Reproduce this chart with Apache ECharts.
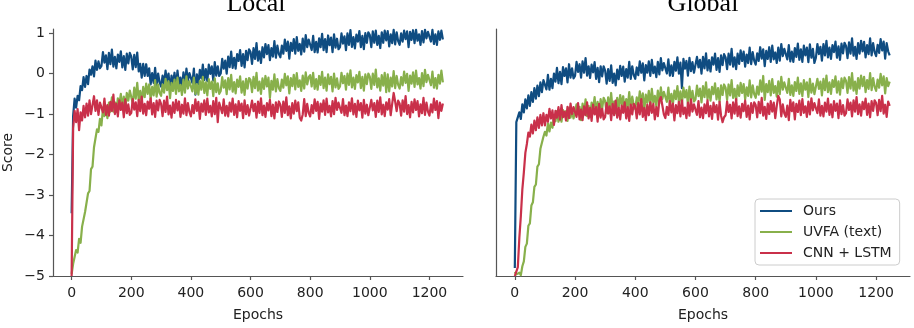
<!DOCTYPE html>
<html>
<head>
<meta charset="utf-8">
<script src="https://cdn.jsdelivr.net/npm/echarts@6/dist/echarts.min.js"></script>
<style>
html,body{margin:0;padding:0;background:#fff;}
#chart{width:914px;height:328px;}
</style>
</head>
<body>
<div id="chart"></div>
<script>
// ---- data ----
const seriesNames = ['Ours', 'UVFA (text)', 'CNN + LSTM'];
const panelTitles = ['Local', 'Global'];
const xTicks = [0, 200, 400, 600, 800, 1000, 1200];
const yTicks = [-5, -4, -3, -2, -1, 0, 1];
const EPOCH_STEP = 5; // one value every 5 epochs

const localOurs = [
-3.45,-1.05,-0.62,-0.84,-0.55,-0.66,-0.31,-0.41,-0.09,-0.33,-0.06,-0.26,0.10,-0.03,0.18,-0.07,0.32,0.09,0.30,0.13,
0.19,0.53,0.27,0.45,0.11,0.51,0.23,0.59,0.17,0.41,0.13,0.47,0.29,0.55,0.15,0.43,0.09,0.49,0.25,0.51,
0.42,0.10,0.46,0.16,0.52,0.05,0.24,-0.10,0.24,-0.06,0.23,-0.06,0.13,-0.27,0.01,-0.23,0.14,-0.29,0.00,-0.22,
-0.32,-0.05,-0.26,0.07,-0.21,0.00,-0.43,-0.05,-0.26,0.02,-0.34,0.07,-0.27,-0.10,-0.36,0.03,-0.29,0.12,-0.18,0.01,
0.04,-0.23,0.12,-0.52,-0.02,-0.27,0.09,-0.12,0.22,-0.16,0.11,-0.19,0.22,-0.01,0.18,-0.17,0.28,-0.05,0.18,-0.06,
0.00,0.36,0.12,0.32,0.00,0.42,0.16,0.54,0.14,0.39,0.12,0.48,0.31,0.58,0.19,0.48,0.15,0.56,0.33,0.60,
0.53,0.24,0.63,0.36,0.75,0.32,0.55,0.26,0.65,0.40,0.73,0.48,0.70,0.33,0.63,0.42,0.80,0.39,0.69,0.48,
0.40,0.69,0.49,0.84,0.56,0.79,0.37,0.76,0.56,0.85,0.49,0.90,0.56,0.73,0.47,0.86,0.54,0.95,0.65,0.84,
0.86,0.58,0.93,0.53,0.78,0.52,0.87,0.65,0.98,0.58,0.85,0.53,0.94,0.70,0.89,0.53,0.97,0.64,0.86,0.60,
0.65,0.99,0.74,0.92,0.58,0.99,0.71,1.07,0.66,0.90,0.62,0.96,0.79,1.05,0.65,0.93,0.60,1.00,0.76,1.02,
0.95,0.65,1.04,0.76,1.06,0.71,0.93,0.63,1.02,0.76,1.06,0.82,1.05,0.67,0.97,0.75,1.08,0.72,1.02,0.80,
0.71,0.99,0.79,1.06,0.85,1.04,0.65,1.03,0.83,1.07,0.75,1.08,0.81,0.97,0.71,1.05,0.77,1.08,0.87,1.03,
1.05,0.79,1.08,0.73,0.97,0.71,1.04,0.83,1.06,0.84
];
const localUVFA = [
-4.95,-4.70,-4.66,-4.36,-4.42,-4.08,-4.18,-3.78,-3.80,-3.42,-3.46,-2.96,-2.90,-2.36,-2.30,-1.82,-1.80,-1.38,-1.44,-1.12,
-1.28,-0.87,-1.05,-0.84,-1.10,-0.72,-0.94,-0.59,-0.94,-0.71,-0.94,-0.61,-0.76,-0.50,-0.84,-0.57,-0.86,-0.48,-0.67,-0.42,
-0.45,-0.74,-0.35,-0.62,-0.23,-0.66,-0.43,-0.72,-0.33,-0.58,-0.25,-0.50,-0.27,-0.64,-0.33,-0.54,-0.16,-0.57,-0.27,-0.48,
-0.55,-0.27,-0.47,-0.13,-0.41,-0.19,-0.61,-0.23,-0.43,-0.15,-0.50,-0.10,-0.44,-0.28,-0.53,-0.15,-0.47,-0.07,-0.37,-0.19,
-0.16,-0.44,-0.10,-0.50,-0.26,-0.52,-0.18,-0.40,-0.08,-0.48,-0.22,-0.54,-0.14,-0.38,-0.20,-0.56,-0.12,-0.46,-0.24,-0.50,
-0.43,-0.09,-0.35,-0.17,-0.51,-0.11,-0.39,-0.03,-0.45,-0.21,-0.49,-0.15,-0.33,-0.07,-0.47,-0.19,-0.53,-0.13,-0.37,-0.11,
-0.16,-0.46,-0.08,-0.36,0.02,-0.42,-0.20,-0.50,-0.12,-0.38,-0.06,-0.32,-0.10,-0.60,-0.18,-0.40,-0.02,-0.44,-0.14,-0.36,
-0.43,-0.15,-0.35,-0.01,-0.29,-0.07,-0.49,-0.11,-0.31,-0.03,-0.39,0.01,-0.33,-0.17,-0.43,-0.05,-0.37,0.03,-0.27,-0.09,
-0.04,-0.32,0.02,-0.38,-0.14,-0.40,-0.06,-0.28,0.04,-0.36,-0.10,-0.42,-0.02,-0.26,-0.08,-0.44,0.00,-0.34,-0.12,-0.38,
-0.32,0.02,-0.24,-0.06,-0.40,0.00,-0.28,0.08,-0.34,-0.10,-0.38,-0.04,-0.22,0.04,-0.36,-0.08,-0.42,-0.02,-0.26,0.00,
-0.08,-0.38,0.00,-0.28,0.10,-0.34,-0.12,-0.42,-0.04,-0.30,0.02,-0.46,-0.02,-0.44,-0.10,-0.32,0.06,-0.36,-0.06,-0.28,
-0.37,-0.09,-0.29,0.05,-0.23,-0.01,-0.43,-0.05,-0.25,0.03,-0.33,0.07,-0.27,-0.11,-0.37,0.01,-0.31,0.09,-0.21,-0.03,
-0.01,-0.29,0.05,-0.35,-0.11,-0.37,-0.03,-0.25,0.07,-0.22
];
const localCNN = [
-5.00,-1.35,-0.92,-1.20,-0.88,-1.40,-0.96,-1.16,-0.80,-1.08,-0.74,-1.04,-0.66,-1.00,-0.78,-0.56,-0.92,-0.66,-1.02,-0.72,
-0.68,-0.96,-0.62,-1.02,-0.78,-1.04,-0.70,-0.92,-0.52,-1.00,-0.74,-1.06,-0.66,-0.90,-0.72,-1.08,-0.64,-0.98,-0.76,-1.02,
-0.97,-0.63,-0.89,-0.71,-1.05,-0.65,-0.93,-0.57,-0.99,-0.75,-1.03,-0.69,-0.87,-0.61,-1.01,-0.73,-1.07,-0.67,-0.91,-0.65,
-0.75,-1.05,-0.67,-0.95,-0.57,-1.01,-0.79,-1.09,-0.71,-0.97,-0.65,-0.91,-0.69,-1.07,-0.77,-0.99,-0.61,-1.03,-0.73,-0.95,
-1.06,-0.78,-0.98,-0.64,-0.92,-0.70,-1.12,-0.74,-0.94,-0.66,-1.02,-0.62,-0.96,-0.80,-1.06,-0.68,-1.00,-0.60,-1.20,-0.72,
-0.70,-0.98,-0.64,-1.04,-0.80,-1.06,-0.72,-0.94,-0.62,-1.02,-0.76,-1.08,-0.68,-0.92,-0.74,-1.10,-0.66,-1.00,-0.78,-1.04,
-1.01,-0.67,-0.93,-0.75,-1.09,-0.69,-0.97,-0.61,-1.03,-0.79,-1.07,-0.73,-0.91,-0.65,-1.05,-0.77,-1.11,-0.71,-0.95,-0.69,
-0.77,-1.07,-0.69,-0.97,-0.59,-1.03,-0.81,-1.11,-0.73,-0.99,-0.67,-0.93,-0.71,-1.09,-1.16,-1.01,-0.63,-1.05,-0.75,-0.97,
-1.06,-0.78,-0.98,-0.64,-0.92,-0.70,-1.12,-0.74,-0.94,-0.66,-1.02,-0.62,-0.96,-0.80,-1.06,-0.68,-1.00,-0.60,-0.90,-0.72,
-0.69,-0.97,-0.63,-1.03,-0.79,-1.05,-0.71,-0.93,-0.61,-1.01,-0.75,-1.07,-0.67,-0.91,-0.73,-1.09,-0.65,-0.99,-0.77,-1.03,
-0.99,-0.65,-0.91,-0.73,-1.07,-0.67,-0.95,-0.59,-1.01,-0.77,-1.05,-0.71,-0.89,-0.63,-1.03,-0.75,-0.48,-0.69,-0.93,-0.67,
-0.74,-1.04,-0.66,-0.94,-0.56,-1.00,-0.78,-1.08,-0.70,-0.96,-0.64,-0.90,-0.68,-1.06,-0.76,-0.98,-0.60,-1.02,-0.72,-0.94,
-1.04,-0.76,-0.96,-0.62,-0.90,-0.68,-1.10,-0.72,-0.92,-0.74
];
const globalOurs = [
-4.80,-1.20,-1.24,-0.96,-1.12,-0.76,-0.96,-0.64,-0.86,-0.54,-0.80,-0.46,-0.70,-0.36,-0.62,-0.30,-0.56,-0.22,-0.46,-0.16,
-0.13,-0.39,-0.03,-0.40,-0.13,-0.36,0.00,-0.20,0.14,-0.24,0.04,-0.26,0.16,-0.06,0.13,-0.22,0.23,-0.10,0.13,-0.12,
-0.06,0.29,0.04,0.23,-0.10,0.30,0.02,0.38,-0.05,0.18,-0.11,0.22,0.03,0.28,-0.13,0.14,-0.21,0.18,-0.07,0.18,
0.07,-0.25,0.11,-0.18,0.20,-0.23,0.00,-0.29,0.10,-0.14,0.19,-0.06,0.17,-0.20,0.11,-0.10,0.29,-0.13,0.18,-0.04,
-0.13,0.15,-0.04,0.30,0.02,0.25,-0.17,0.21,0.02,0.30,-0.06,0.34,0.01,0.17,-0.09,0.29,-0.02,0.38,0.08,0.26,
0.28,0.00,0.35,-0.05,0.20,-0.06,0.29,0.07,0.40,0.00,0.27,-0.36,0.36,0.12,0.31,-0.05,0.39,0.06,0.28,0.02,
0.06,0.41,0.15,0.34,0.00,0.41,0.13,0.50,0.08,0.33,0.05,0.40,0.22,0.49,0.09,0.38,0.04,0.45,0.21,0.48,
0.40,0.11,0.49,0.22,0.61,0.17,0.40,0.11,0.49,0.24,0.57,0.31,0.54,0.17,0.47,0.26,0.64,0.23,0.53,0.32,
0.22,0.50,0.31,0.65,0.37,0.60,0.18,0.56,0.36,0.65,0.29,0.69,0.35,0.52,0.26,0.64,0.32,0.73,0.43,0.61,
0.63,0.35,0.70,0.30,0.54,0.29,0.63,0.41,0.74,0.34,0.60,0.29,0.69,0.45,0.64,0.28,0.72,0.39,0.61,0.26,
0.39,0.73,0.48,0.66,0.32,0.73,0.45,0.81,0.40,0.64,0.36,0.70,0.53,0.79,0.39,0.67,0.34,0.74,0.50,0.76,
0.68,0.38,0.77,0.49,0.87,0.44,0.66,0.36,0.75,0.49,0.81,0.55,0.78,0.40,0.70,0.48,0.87,0.45,0.75,0.53,
0.43,0.71,0.51,0.85,0.57,0.79,0.37,0.75,0.55,0.45
];
const globalUVFA = [
-4.90,-4.96,-5.00,-4.92,-4.98,-4.76,-4.64,-4.28,-4.20,-3.76,-3.70,-3.26,-3.18,-2.80,-2.74,-2.30,-2.24,-1.86,-1.88,-1.56,
-1.44,-1.53,-1.23,-1.43,-1.21,-1.34,-1.06,-1.18,-0.93,-1.19,-0.99,-1.19,-0.90,-1.06,-0.93,-1.17,-0.85,-1.09,-0.92,-1.11,
-1.11,-0.76,-1.01,-0.82,-1.15,-0.74,-1.01,-0.64,-1.05,-0.80,-1.07,-0.72,-0.86,-0.58,-0.98,-0.70,-1.04,-0.63,-0.87,-0.60,
-0.68,-0.97,-0.59,-0.86,-0.48,-0.91,-0.69,-0.98,-0.60,-0.85,-0.53,-0.78,-0.56,-0.93,-0.63,-0.84,-0.46,-0.88,-0.57,-0.79,
-0.88,-0.59,-0.79,-0.44,-0.72,-0.49,-0.91,-0.52,-0.72,-0.43,-0.79,-0.38,-0.72,-0.55,-0.81,-0.42,-0.74,-0.34,-0.63,-0.45,
-0.42,-0.70,-0.35,-0.75,-0.50,-0.76,-0.42,-0.63,-0.31,-0.71,-0.44,-0.76,-0.35,-0.59,-0.41,-0.76,-0.32,-0.66,-0.43,-0.69,
-0.64,-0.30,-0.56,-0.37,-0.71,-0.31,-0.58,-0.22,-0.64,-0.39,-0.67,-0.33,-0.51,-0.24,-0.64,-0.36,-0.70,-0.29,-0.53,-0.27,
-0.35,-0.65,-0.27,-0.54,-0.16,-0.60,-0.38,-0.67,-0.29,-0.55,-0.23,-0.48,-0.26,-0.64,-0.34,-0.55,-0.17,-0.59,-0.29,-0.51,
-0.60,-0.32,-0.52,-0.17,-0.45,-0.06,-0.65,-0.26,-0.46,-0.18,-0.54,-0.14,-0.48,-0.31,-0.57,-0.19,-0.51,-0.08,-0.40,-0.22,
-0.20,-0.48,-0.13,-0.53,-0.29,-0.55,-0.21,-0.43,-0.10,-0.50,-0.24,-0.56,-0.16,-0.40,-0.22,-0.58,-0.13,-0.47,-0.25,-0.51,
-0.47,-0.13,-0.38,-0.20,-0.54,-0.13,-0.41,-0.05,-0.46,-0.22,-0.50,-0.16,-0.33,-0.07,-0.47,-0.19,-0.52,-0.12,-0.36,-0.10,
-0.18,-0.48,-0.09,-0.37,0.01,-0.42,-0.20,-0.50,-0.11,-0.37,-0.05,-0.31,-0.08,-0.46,-0.16,-0.38,0.01,-0.41,-0.11,-0.33,
-0.43,-0.15,-0.35,-0.01,-0.29,-0.07,-0.49,-0.11,-0.31,-0.20
];
const globalCNN = [
-5.00,-4.96,-4.78,-4.06,-3.52,-2.86,-2.44,-1.96,-1.74,-1.46,-1.56,-1.26,-1.48,-1.16,-1.40,-1.08,-1.34,-1.02,-1.28,-0.98,
-1.28,-1.02,-1.19,-0.87,-1.11,-0.91,-1.27,-0.92,-1.09,-0.83,-1.14,-0.78,-1.08,-0.94,-1.16,-0.82,-1.10,-0.74,-1.00,-0.83,
-0.79,-1.07,-0.73,-1.13,-0.89,-1.15,-0.81,-1.03,-0.71,-1.11,-0.85,-1.17,-0.77,-1.01,-0.83,-1.19,-0.75,-1.09,-0.87,-1.13,
-1.07,-0.73,-0.99,-0.81,-1.15,-0.75,-1.03,-0.67,-1.09,-0.85,-1.13,-0.79,-0.97,-0.71,-1.11,-0.83,-1.17,-0.77,-1.01,-0.75,
-0.81,-1.11,-0.73,-1.01,-0.63,-1.07,-0.85,-1.15,-0.77,-1.03,-0.71,-0.97,-0.75,-1.13,-0.83,-1.05,-0.67,-0.58,-0.79,-1.01,
-1.10,-0.82,-1.02,-0.68,-0.96,-0.74,-1.16,-0.78,-0.98,-0.70,-1.06,-0.66,-1.00,-0.84,-1.10,-0.72,-1.04,-0.64,-0.94,-0.76,
-0.74,-1.02,-0.68,-1.08,-0.84,-1.10,-0.76,-0.98,-0.66,-1.06,-0.80,-1.12,-0.72,-0.96,-0.78,-1.14,-0.70,-1.04,-1.20,-1.08,
-1.03,-0.69,-0.95,-0.77,-1.11,-0.71,-0.99,-0.63,-1.05,-0.81,-1.09,-0.75,-0.93,-0.67,-1.07,-0.79,-1.13,-0.73,-0.97,-0.71,
-0.78,-1.08,-0.70,-0.98,-0.60,-1.04,-0.82,-1.12,-0.74,-1.00,-0.68,-0.94,-0.72,-1.10,-0.80,-0.55,-0.64,-1.06,-0.76,-0.98,
-1.07,-0.79,-1.15,-0.65,-0.93,-0.71,-1.13,-0.75,-0.95,-0.67,-1.03,-0.63,-0.97,-0.81,-1.07,-0.69,-1.01,-0.61,-0.91,-0.73,
-0.70,-0.98,-0.64,-1.04,-0.80,-1.06,-0.72,-0.94,-0.62,-1.02,-0.76,-1.08,-0.68,-0.92,-0.74,-1.10,-0.66,-1.00,-0.78,-1.04,
-0.98,-0.64,-0.90,-0.72,-1.06,-0.66,-0.94,-0.58,-1.00,-0.76,-1.04,-0.70,-0.88,-0.62,-1.02,-0.74,-1.08,-0.68,-0.92,-0.66,
-0.73,-1.03,-0.65,-0.93,-0.55,-0.99,-0.77,-1.07,-0.69,-0.80
];

// ---- chart ----
const colors = ['#0F4C81', '#88B04B', '#C9304A'];
const FONT = 'DejaVu Sans';
const withEpochs = ys => ys.map((y, i) => [i * EPOCH_STEP, y]);
const fmtY = v => (v < 0 ? '\u2212' + Math.abs(v) : String(v));

const grids = [
  { left: 49, top: 29, width: 414, height: 247 },
  { left: 496, top: 29, width: 414, height: 247 }
];
const axisLineStyle = { color: '#555', width: 1.2 };

const xAxes = grids.map((g, i) => ({
  type: 'value', gridIndex: i, min: -62.5, max: 1312.5,
  name: 'Epochs', nameLocation: 'middle', nameGap: 32,
  nameTextStyle: { fontFamily: FONT, fontSize: 14, color: '#222' },
  axisLine: { show: true, onZero: false, lineStyle: axisLineStyle },
  axisTick: { show: true, length: 4, lineStyle: axisLineStyle, customValues: xTicks },
  axisLabel: { fontFamily: FONT, fontSize: 14, color: '#222', margin: 10, customValues: xTicks, formatter: v => String(v) },
  splitLine: { show: false }
}));
const yAxes = grids.map((g, i) => ({
  type: 'value', gridIndex: i, min: -5, max: 1.1,
  name: i === 0 ? 'Score' : '', nameLocation: 'middle', nameGap: 38,
  nameTextStyle: { fontFamily: FONT, fontSize: 14, color: '#222' },
  axisLine: { show: true, onZero: false, lineStyle: axisLineStyle },
  axisTick: { show: i === 0, length: 4, lineStyle: axisLineStyle, customValues: yTicks },
  axisLabel: { show: i === 0, fontFamily: FONT, fontSize: 14, color: '#222', margin: 8, customValues: yTicks, formatter: fmtY },
  splitLine: { show: false }
}));

const panels = [[localOurs, localUVFA, localCNN], [globalOurs, globalUVFA, globalCNN]];
const series = [];
panels.forEach((arrs, p) => {
  arrs.forEach((ys, k) => {
    series.push({
      type: 'line', name: seriesNames[k], xAxisIndex: p, yAxisIndex: p,
      data: withEpochs(ys), showSymbol: false, symbol: 'none',
      lineStyle: { color: colors[k], width: 2.2, join: 'round' }, itemStyle: { color: colors[k] },
      z: 2 + k, animation: false
    });
  });
});

const graphic = panelTitles.map((t, i) => ({
  type: 'text', x: grids[i].left + grids[i].width / 2, y: 17,
  style: { text: t, font: '26px "Liberation Serif"', fill: '#000', textAlign: 'center', textVerticalAlign: 'bottom' }
}));

const chart = echarts.init(document.getElementById('chart'), null, { renderer: 'canvas' });
chart.setOption({
  animation: false,
  grid: grids,
  xAxis: xAxes,
  yAxis: yAxes,
  series: series,
  graphic: graphic,
  legend: {
    data: seriesNames, orient: 'vertical', left: 755, top: 199,
    icon: 'rect', itemWidth: 32, itemHeight: 2, itemGap: 7,
    padding: [5, 8, 5, 5],
    backgroundColor: 'rgba(255,255,255,0.8)', borderColor: '#ccc', borderWidth: 1, borderRadius: 4,
    textStyle: { fontFamily: FONT, fontSize: 14, color: '#222', padding: [0, 0, 0, 6] }
  }
});
</script>
</body>
</html>
